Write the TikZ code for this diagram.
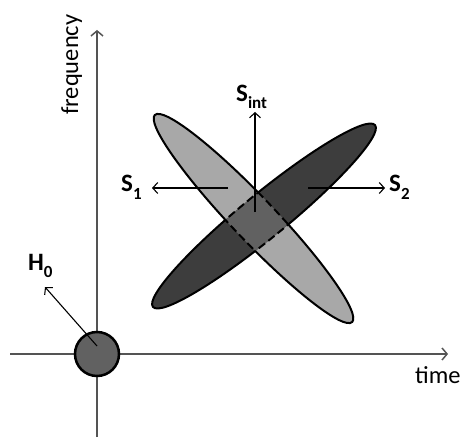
\documentclass[tikz,border=0pt]{standalone}
\usepackage{fontspec}
\setmainfont{Carlito}
\usetikzlibrary{arrows.meta}

\definecolor{lightlobe}{gray}{0.66}
\definecolor{darklobe}{gray}{0.24}
\definecolor{overlapgray}{gray}{0.38}
\definecolor{axisgray}{gray}{0.33}

\newcommand{\lowsub}[1]{\raisebox{-0.28em}{\fontsize{17}{17}\selectfont #1}}
\def\lightpath{(253.5,218.5) ellipse [x radius=143, y radius=21.5, rotate=-46.4]}
\def\darkpath{(264,221) ellipse [x radius=143.5, y radius=22, rotate=39.3]}

\tikzset{
  invclip/.style={clip, insert path={{[reset cm] (-16000pt,-16000pt) rectangle (16000pt,16000pt)}}},
  axisline/.style={axisgray, line width=1.5pt, -{Straight Barb[length=5pt,width=12pt]}},
  pointer/.style={black, line width=1.1pt, -{Straight Barb[length=5pt,width=11pt]}},
  rim/.style={black, line width=2pt},
  rimdash/.style={black, line width=2pt, dash pattern=on 8pt off 4pt},
  sig/.style={font=\fontsize{25}{25}\selectfont\bfseries, inner sep=0pt, anchor=base west},
  axlabel/.style={font=\fontsize{24.5}{24.5}\selectfont, inner sep=0pt, anchor=base west},
}

\begin{document}
\begin{tikzpicture}[x=1pt, y=1pt]
  \useasboundingbox (0,0) rectangle (460,437);

  % Axes
  \coordinate (t-start) at (10,83);
  \coordinate (t-end) at (448,83);
  \coordinate (f-start) at (97,0);
  \coordinate (f-end) at (97,407);
  \draw[axisline] (t-start) -- (t-end);
  \draw[axisline] (f-start) -- (f-end);
  \node[axlabel] (time) at (415,54) {time};
  \node[axlabel, rotate=90] (freq) at (78,322) {frequency};

  % Lobes
  \fill[lightlobe] \lightpath;
  \fill[darklobe] \darkpath;
  \begin{scope}
    \clip \lightpath;
    \fill[overlapgray] \darkpath;
  \end{scope}

  % Outlines: solid outside, dashed inside the other lobe
  \begin{scope}
    \path[invclip] \darkpath;
    \draw[rim] \lightpath;
  \end{scope}
  \begin{scope}
    \path[invclip] \lightpath;
    \draw[rim] \darkpath;
  \end{scope}
  \begin{scope}
    \clip \darkpath;
    \draw[rimdash] \lightpath;
  \end{scope}
  \begin{scope}
    \clip \lightpath;
    \draw[rimdash] \darkpath;
  \end{scope}

  % Signal arrows
  \coordinate (int-base) at (255,225);
  \coordinate (int-tip) at (255,325);
  \coordinate (s1-base) at (228,249);
  \coordinate (s1-tip) at (152,249);
  \coordinate (s2-base) at (308,249);
  \coordinate (s2-tip) at (385,249);
  \draw[pointer] (int-base) -- (int-tip);
  \draw[pointer] (s1-base) -- (s1-tip);
  \draw[pointer] (s2-base) -- (s2-tip);
  \node[sig] (sint) at (236,335) {S\lowsub{int}};
  \node[sig] (s1) at (121,245) {S\lowsub{1}};
  \node[sig] (s2) at (389,245) {S\lowsub{2}};

  % H0
  \node[circle, draw=black, line width=2.5pt, fill=overlapgray, minimum size=44pt, inner sep=0pt] (h0) at (97,83) {};
  \coordinate (h0-base) at (97,91);
  \coordinate (h0-tip) at (45,150);
  \draw[pointer] (h0-base) -- (h0-tip);
  \node[sig] (h0lbl) at (28,167) {H\lowsub{0}};
\end{tikzpicture}
\end{document}
